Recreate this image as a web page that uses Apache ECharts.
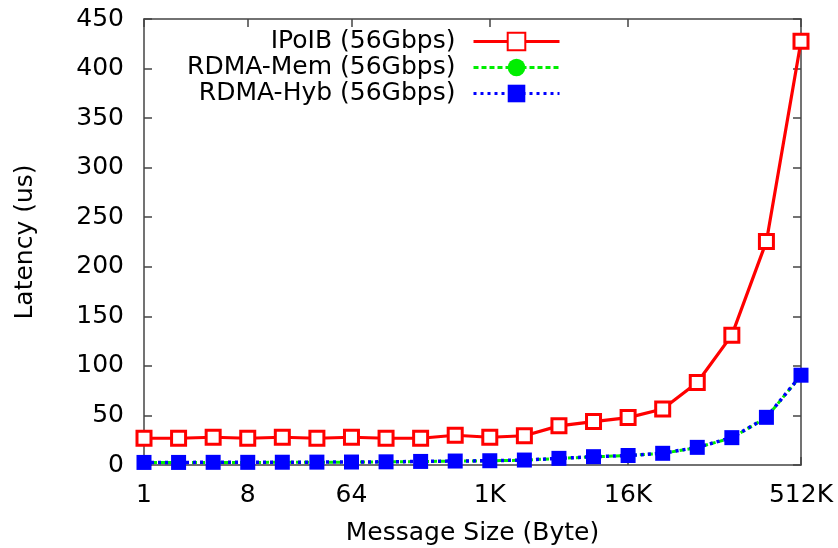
<!DOCTYPE html>
<html>
<head>
<meta charset="utf-8">
<script src="https://cdn.jsdelivr.net/npm/echarts@6/dist/echarts.min.js"></script>
<style>
  html, body { margin: 0; padding: 0; background: #fff; }
  #chart { width: 838px; height: 548px; }
</style>
</head>
<body>
<div id="chart"></div>
<script>
// message sizes (2^0 .. 2^19 bytes)
const sizes = ['1', '2', '4', '8', '16', '32', '64', '128', '256', '512',
  '1K', '2K', '4K', '8K', '16K', '32K', '64K', '128K', '256K', '512K'];
// which sizes get a label / tick
const shownSizes = ['1', '8', '64', '1K', '16K', '512K'];

// latency in us
const ipoib = [27, 27, 28, 27, 28, 27, 28, 27, 27, 30,
  28, 29.5, 39.5, 43.8, 47.8, 56.5, 83.2, 131, 225.6, 427.5];
const rdmaMem = [2.5, 2.5, 2.6, 2.6, 2.7, 2.8, 2.9, 3.1, 3.5, 3.9,
  4.2, 4.9, 6.6, 8.3, 9.5, 11.7, 17.6, 27.4, 47.9, 90.4];
const rdmaHyb = [2.6, 2.6, 2.7, 2.7, 2.8, 2.9, 3.0, 3.2, 3.6, 4.0,
  4.3, 5.0, 6.7, 8.4, 9.6, 11.8, 17.8, 27.6, 48.1, 90.6];

const yTicks = { min: 0, max: 450, step: 50 };

const FONT = 'DejaVu Sans';
const frameColor = '#444';
const showIdx = (i) => shownSizes.indexOf(sizes[i]) >= 0;

const chart = echarts.init(document.getElementById('chart'));

const baseX = {
  type: 'category',
  data: sizes,
  boundaryGap: false,
  axisLine: { show: true, onZero: false, lineStyle: { color: frameColor, width: 1.5 } },
  axisTick: { show: true, inside: true, length: 8, interval: (i) => showIdx(i),
    lineStyle: { color: frameColor, width: 1.5 } },
  splitLine: { show: false }
};
const baseY = {
  type: 'value',
  min: yTicks.min,
  max: yTicks.max,
  interval: yTicks.step,
  axisLine: { show: true, lineStyle: { color: frameColor, width: 1.5 } },
  axisTick: { show: true, inside: true, length: 8, lineStyle: { color: frameColor, width: 1.5 } },
  splitLine: { show: false }
};

const option = {
  animation: false,
  backgroundColor: '#fff',
  grid: { left: 144, right: 37, top: 19, bottom: 83, containLabel: false, outerBoundsMode: 'none' },
  legend: {
    orient: 'vertical',
    align: 'right',
    right: 272,
    top: 24,
    itemWidth: 86,
    itemHeight: 22,
    itemGap: 1,
    lineStyle: { width: 3 },
    textStyle: { fontFamily: FONT, fontSize: 25, color: '#000', padding: [0, 13, 0, 0] },
    data: ['IPoIB (56Gbps)', 'RDMA-Mem (56Gbps)', 'RDMA-Hyb (56Gbps)']
  },
  xAxis: [
    Object.assign({}, baseX, {
      position: 'bottom',
      name: 'Message Size (Byte)',
      nameLocation: 'middle',
      nameGap: 56,
      nameTextStyle: { fontFamily: FONT, fontSize: 25, color: '#000' },
      axisLabel: { show: true, interval: (i) => showIdx(i), margin: 18,
        fontFamily: FONT, fontSize: 25, color: '#000' }
    }),
    Object.assign({}, baseX, { position: 'top', axisLabel: { show: false } })
  ],
  yAxis: [
    Object.assign({}, baseY, {
      position: 'left',
      name: 'Latency (us)',
      nameLocation: 'middle',
      nameRotate: 90,
      nameGap: 106,
      nameTextStyle: { fontFamily: FONT, fontSize: 25, color: '#000' },
      axisLabel: { margin: 20, fontFamily: FONT, fontSize: 25, color: '#000' }
    }),
    Object.assign({}, baseY, { position: 'right', axisLabel: { show: false } })
  ],
  series: [
    {
      name: 'IPoIB (56Gbps)',
      type: 'line',
      data: ipoib,
      color: '#ff0000',
      symbol: 'rect',
      symbolSize: 14,
      showAllSymbol: true,
      lineStyle: { color: '#ff0000', width: 3.2 },
      itemStyle: { color: '#fff', borderColor: '#ff0000', borderWidth: 3 }
    },
    {
      name: 'RDMA-Mem (56Gbps)',
      type: 'line',
      data: rdmaMem,
      color: '#00ee00',
      symbol: 'circle',
      symbolSize: 13,
      showAllSymbol: true,
      lineStyle: { color: '#00ee00', width: 3, type: [5, 3] },
      itemStyle: { color: '#00ee00' }
    },
    {
      name: 'RDMA-Hyb (56Gbps)',
      type: 'line',
      data: rdmaHyb,
      color: '#0000ff',
      symbol: 'rect',
      symbolSize: 15,
      showAllSymbol: true,
      lineStyle: { color: '#0000ff', width: 3.5, type: [3, 4] },
      itemStyle: { color: '#0000ff' }
    }
  ]
};

chart.setOption(option);
</script>
</body>
</html>
